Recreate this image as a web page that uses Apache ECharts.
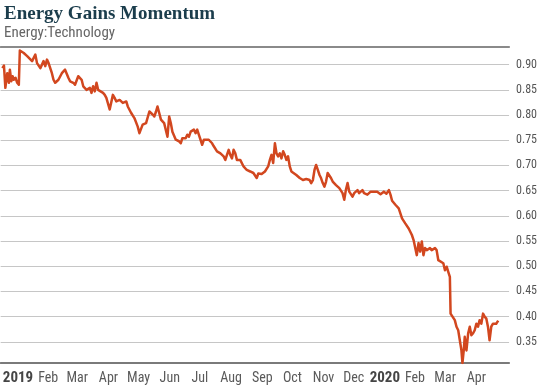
<!DOCTYPE html>
<html>
<head>
<meta charset="utf-8">
<script src="https://cdn.jsdelivr.net/npm/echarts@6/dist/echarts.min.js"></script>
<style>
html,body{margin:0;padding:0;background:#fff;}
#c{width:540px;height:387px;}
</style>
</head>
<body>
<div id="c"></div>
<script>
// Chart text
const titleText = 'Energy Gains Momentum';
const subtitleText = 'Energy:Technology';

// Series: ratio of energy to technology; x = days since 2019-01-01
const dayOffsets = [
  -0.6,1.0,2.4,4.3,5.9,6.9,8.3,9.6,10.8,12.5,14.2,15.8,16.8,20.7,24.1,29.0,32.2,33.9,37.2,38.8,
  40.4,42.1,43.8,45.4,48.7,50.3,52.0,55.2,56.9,58.6,61.8,63.5,65.1,66.8,70.0,71.7,74.9,78.3,79.9,83.2,
  84.8,86.5,88.1,89.7,91.4,93.1,94.7,96.3,99.6,101.3,102.9,106.2,109.4,111.1,112.8,116.1,119.3,122.7,124.2,125.9,
  127.6,130.8,132.5,134.1,135.8,137.4,139.0,142.4,144.0,145.7,147.3,148.9,150.6,152.3,153.8,155.5,157.2,160.4,162.1,163.7,
  165.4,167.0,168.6,170.3,172.0,173.5,175.2,176.9,178.5,180.2,181.8,183.4,185.1,186.8,188.3,190.0,191.7,193.3,194.9,196.6,
  198.2,199.9,201.6,204.8,206.5,208.1,209.8,211.4,213.0,214.7,216.4,218.0,219.6,221.3,222.9,224.6,226.2,227.9,229.5,231.2,
  232.8,236.1,237.7,239.4,242.6,246.0,249.2,252.5,254.1,257.4,260.7,262.2,263.9,265.6,267.2,268.9,270.6,272.2,273.8,275.5,
  277.1,278.8,280.4,282.0,283.7,285.4,287.0,288.6,291.9,295.3,298.5,301.8,305.1,306.7,308.4,310.0,311.6,313.3,315.0,316.5,
  318.2,319.9,321.5,323.1,324.8,326.4,328.1,331.4,334.7,337.9,339.6,341.2,342.9,344.6,347.8,349.5,351.1,352.8,354.4,356.0,
  357.7,359.3,361.0,362.6,365.9,367.5,369.2,372.4,374.1,375.7,377.4,379.0,380.7,381.6,384.0,385.6,387.2,388.9,390.5,392.2,
  393.8,395.4,397.1,400.3,403.7,406.9,408.6,410.2,411.8,413.5,415.1,416.8,418.4,420.0,421.7,424.9,426.6,428.3,429.9,431.5,
  433.2,434.8,438.2,439.8,441.5,443.1,444.7,445.4,446.4,449.6,451.3,453.0,454.6,456.2,457.2,458.5,459.5,461.2,462.9,464.5,
  466.1,467.8,469.4,471.1,472.7,474.3,476.0,477.7,479.3,481.0,482.6,484.2,485.9,487.6,489.1,490.8,492.8
];
const ratio = [
  0.893,0.898,0.854,0.883,0.864,0.890,0.867,0.877,0.870,0.874,0.864,0.860,0.928,0.923,0.917,0.907,0.920,0.903,0.893,0.890,
  0.907,0.897,0.910,0.903,0.883,0.870,0.864,0.870,0.870,0.883,0.890,0.893,0.874,0.867,0.864,0.860,0.877,0.870,0.857,0.850,
  0.847,0.854,0.844,0.857,0.847,0.864,0.850,0.847,0.844,0.840,0.834,0.811,0.840,0.834,0.827,0.830,0.824,0.827,0.817,0.815,
  0.804,0.794,0.791,0.777,0.764,0.765,0.781,0.784,0.787,0.807,0.804,0.801,0.797,0.807,0.817,0.804,0.791,0.784,0.784,0.757,
  0.797,0.784,0.767,0.764,0.751,0.751,0.748,0.744,0.754,0.757,0.754,0.761,0.757,0.767,0.764,0.771,0.764,0.771,0.761,0.751,
  0.741,0.751,0.754,0.751,0.748,0.744,0.738,0.741,0.728,0.731,0.724,0.721,0.718,0.711,0.721,0.731,0.721,0.714,0.731,0.724,
  0.711,0.711,0.708,0.698,0.691,0.688,0.685,0.675,0.684,0.683,0.688,0.685,0.698,0.711,0.721,0.705,0.744,0.724,0.718,0.724,
  0.714,0.728,0.721,0.711,0.718,0.698,0.688,0.685,0.681,0.675,0.671,0.673,0.671,0.665,0.671,0.691,0.701,0.691,0.681,0.675,
  0.665,0.658,0.668,0.685,0.688,0.675,0.668,0.661,0.655,0.645,0.632,0.651,0.665,0.648,0.638,0.645,0.642,0.651,0.645,0.648,
  0.651,0.645,0.648,0.642,0.648,0.645,0.648,0.648,0.645,0.643,0.645,0.648,0.645,0.644,0.651,0.642,0.630,0.628,0.622,0.624,
  0.615,0.612,0.595,0.585,0.575,0.562,0.552,0.551,0.522,0.546,0.529,0.549,0.522,0.536,0.532,0.536,0.532,0.529,0.536,0.532,
  0.512,0.509,0.506,0.492,0.499,0.489,0.479,0.406,0.405,0.393,0.380,0.373,0.353,0.333,0.308,0.333,0.360,0.333,0.367,0.380,
  0.363,0.367,0.373,0.386,0.380,0.393,0.386,0.406,0.400,0.396,0.380,0.353,0.380,0.386,0.383,0.386,0.392
];

// Axis labels
const monthLabels = ['2019','Feb','Mar','Apr','May','Jun','Jul','Aug','Sep','Oct','Nov','Dec','2020','Feb','Mar','Apr'];
const monthLabelDates = ['2019-01-16','2019-02-15','2019-03-16','2019-04-16','2019-05-16','2019-06-16','2019-07-16','2019-08-16',
  '2019-09-16','2019-10-16','2019-11-16','2019-12-16','2020-01-16','2020-02-15','2020-03-16','2020-04-16'];
const yTicks = [0.35,0.40,0.45,0.50,0.55,0.60,0.65,0.70,0.75,0.80,0.85,0.90];
const yMin = 0.308, yMax = 0.935;
const xStartOffset = -2.27, xEndOffset = 503.6;

const DAY = 86400000;
const BASE = Date.UTC(2019, 0, 1);
function dayOf(s){ const p = s.split('-').map(Number); return Math.round((Date.UTC(p[0], p[1]-1, p[2]) - BASE) / DAY); }
const labelDays = monthLabelDates.map(dayOf);
const seriesData = dayOffsets.map((d, i) => [d, ratio[i]]);

const FONT = '"Roboto Condensed", "Roboto", sans-serif';

const chart = echarts.init(document.getElementById('c'), null, {renderer: 'canvas'});
chart.setOption({
  animation: false,
  backgroundColor: '#ffffff',
  title: [
    {text: titleText, left: -1, top: 0,
     textStyle: {fontFamily: '"Liberation Serif", serif', fontWeight: 'bold', fontSize: 19, color: '#1b3d4c'}},
    {text: subtitleText, left: -1, top: 21,
     textStyle: {fontFamily: FONT, fontWeight: 'normal', fontSize: 15, color: '#666666'}}
  ],
  grid: {left: 0, right: 27, top: 47, bottom: 24, containLabel: false},
  xAxis: [
    {
      type: 'value',
      min: xStartOffset,
      max: xEndOffset,
      axisLine: {show: true, onZero: false, lineStyle: {color: '#7a7a7a', width: 2}},
      axisTick: {show: false},
      splitLine: {show: false},
      axisLabel: {
        customValues: labelDays,
        margin: 8,
        showMinLabel: true, showMaxLabel: true,
        fontFamily: FONT, fontSize: 14, color: '#5a5a5a',
        formatter: function (v) {
          let idx = -1, best = Infinity;
          labelDays.forEach((t, i) => { const dd = Math.abs(t - v); if (dd < best) { best = dd; idx = i; } });
          const s = monthLabels[idx];
          return /^\d{4}$/.test(s) ? '{y|' + s + '}' : s;
        },
        rich: {y: {fontFamily: FONT, fontSize: 15, fontWeight: 'bold', color: '#454545'}}
      }
    },
    {
      type: 'value', position: 'top', min: 0, max: 1,
      axisLine: {show: true, onZero: false, lineStyle: {color: '#8a8a8a', width: 2}},
      axisTick: {show: false}, axisLabel: {show: false}, splitLine: {show: false}
    }
  ],
  yAxis: {
    type: 'value',
    position: 'right',
    min: yMin, max: yMax,
    axisLine: {show: false},
    axisTick: {show: false, customValues: yTicks},
    splitLine: {show: true, lineStyle: {color: '#c6c6c6', width: 1}},
    axisLabel: {
      customValues: yTicks,
      margin: 7,
      fontFamily: FONT, fontSize: 12, color: '#555555',
      formatter: v => v.toFixed(2)
    }
  },
  series: [{
    type: 'line',
    xAxisIndex: 0,
    data: seriesData,
    showSymbol: false,
    symbol: 'none',
    lineStyle: {color: '#d2471f', width: 2.5, join: 'round'},
    z: 5
  }]
});
</script>
</body>
</html>
